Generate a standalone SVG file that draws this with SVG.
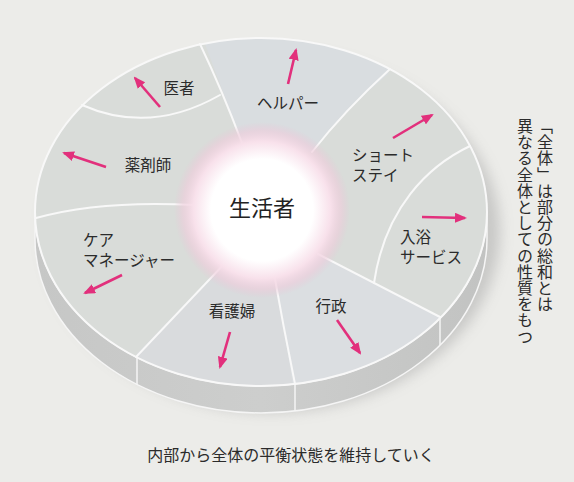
<svg xmlns="http://www.w3.org/2000/svg" width="574" height="482" viewBox="0 0 574 482">
<style>
.lbl{font-family:"Noto Sans CJK JP","Noto Sans",sans-serif;font-size:15.5px;fill:#2b2b2b}
.div{fill:none;stroke:#f8f8f8;stroke-width:2;stroke-linecap:round}
.arr{fill:none;stroke:#e2307c;stroke-width:2.6;marker-end:url(#ah)}
.vt{font-family:"Noto Sans CJK JP",sans-serif;font-size:16px;fill:#2b2b2b;writing-mode:vertical-rl;letter-spacing:0.2px}
</style>
<defs>
<marker id="ah" markerUnits="userSpaceOnUse" markerWidth="12" markerHeight="10" refX="10" refY="5" orient="auto">
<path d="M0,0 L12,5 L0,10 Z" fill="#e2307c"/>
</marker>
<radialGradient id="glow" cx="0.5" cy="0.5" r="0.5">
<stop offset="0" stop-color="#ffffff"/>
<stop offset="0.58" stop-color="#ffffff"/>
<stop offset="0.78" stop-color="#f8e1eb"/>
<stop offset="0.9" stop-color="#f0cddc" stop-opacity="0.6"/>
<stop offset="1" stop-color="#e9c4d6" stop-opacity="0"/>
</radialGradient>
<linearGradient id="side" x1="0" y1="0" x2="1" y2="0">
<stop offset="0" stop-color="#c6c7c6"/>
<stop offset="0.5" stop-color="#cdcecd"/>
<stop offset="1" stop-color="#c2c3c2"/>
</linearGradient>
<filter id="blur" x="-20%" y="-20%" width="140%" height="140%"><feGaussianBlur stdDeviation="7"/></filter>
<clipPath id="face"><ellipse cx="261" cy="212" rx="226" ry="174"/></clipPath>
</defs>
<rect width="574" height="482" fill="#ecece9"/>
<!-- shadow -->
<ellipse cx="272" cy="232" rx="228" ry="180" fill="#9c9c9c" opacity="0.45" filter="url(#blur)"/>
<!-- side band -->
<path d="M35,212 L35,239 A226,174 0 0 0 487,239 L487,212 A226,174 0 0 1 35,212 Z" fill="url(#side)" stroke="#f5f5f5" stroke-width="1.5"/>
<g stroke="#f5f5f5" stroke-width="1.5">
<line x1="137" y1="358" x2="137" y2="385"/>
<line x1="295" y1="384" x2="295" y2="411"/>
<line x1="440" y1="318" x2="440" y2="345"/>
</g>
<!-- top face -->
<ellipse cx="261" cy="212" rx="226" ry="174" fill="#d9dcd9"/>
<g clip-path="url(#face)">
<path d="M242,143 Q222,90 200,30 L400,30 L388,74 Q345,110 312,152 Z" fill="#d9dde0"/>
<path d="M318,254 L440,317 L450,400 L295,400 Q283,325 273,268 Z" fill="#dbdee1"/>
<path d="M273,268 Q283,325 295,400 L130,400 L137,353 L226,262 Z" fill="#d9dbdd"/>
</g>
<ellipse cx="261" cy="212" rx="226" ry="174" fill="none" stroke="#f8f8f8" stroke-width="2"/>
<!-- dividers -->
<g id="dividers">
<path class="div" d="M242,143 Q222,90 200,44"/>
<path class="div" d="M82,105 Q150,135 220,95"/>
<path class="div" d="M312,152 Q345,110 390,69"/>
<path class="div" d="M470,146 C428,166 385,208 374,283"/>
<path class="div" d="M318,254 L440,317"/>
<path class="div" d="M273,268 Q283,325 295,384"/>
<path class="div" d="M226,262 L136,357"/>
<path class="div" d="M36,218 Q100,200 195,205"/>
</g>
<!-- nodes -->
<g id="seikatsusha">
<circle cx="262" cy="210" r="88" fill="url(#glow)"/>
<text x="262" y="216" text-anchor="middle" style="font-family:'Noto Sans CJK JP',sans-serif;font-size:22px;fill:#222">生活者</text>
</g>
<g id="isha"><text class="lbl" x="179" y="94" text-anchor="middle">医者</text></g>
<g id="helper"><text class="lbl" x="288" y="109" text-anchor="middle">ヘルパー</text></g>
<g id="yakuzaishi"><text class="lbl" x="148" y="171" text-anchor="middle">薬剤師</text></g>
<g id="shortstay"><text class="lbl" x="352" y="161">ショート</text><text class="lbl" x="352" y="181">ステイ</text></g>
<g id="nyuyoku"><text class="lbl" x="400" y="243">入浴</text><text class="lbl" x="400" y="263">サービス</text></g>
<g id="caremanager"><text class="lbl" x="83" y="246">ケア</text><text class="lbl" x="83" y="266">マネージャー</text></g>
<g id="kangofu"><text class="lbl" x="232" y="317" text-anchor="middle">看護婦</text></g>
<g id="gyosei"><text class="lbl" x="331" y="312" text-anchor="middle">行政</text></g>
<!-- connectors -->
<g id="connectors">
<line class="arr" x1="160" y1="107" x2="135" y2="78"/>
<line class="arr" x1="288" y1="84" x2="296" y2="50"/>
<line class="arr" x1="106" y1="167" x2="64" y2="153"/>
<line class="arr" x1="393" y1="138" x2="432" y2="115"/>
<line class="arr" x1="422" y1="217" x2="465" y2="218"/>
<line class="arr" x1="122" y1="275" x2="85" y2="293"/>
<line class="arr" x1="230" y1="332" x2="220" y2="367"/>
<line class="arr" x1="337" y1="320" x2="360" y2="353"/>
</g>
<!-- side texts -->
<text class="vt" x="545" y="118">「全体」は部分の総和とは</text>
<text class="vt" x="525" y="118">異なる全体としての性質をもつ</text>
<text x="291" y="461" text-anchor="middle" style="font-family:'Noto Sans CJK JP',sans-serif;font-size:16px;fill:#2b2b2b">内部から全体の平衡状態を維持していく</text>
</svg>
